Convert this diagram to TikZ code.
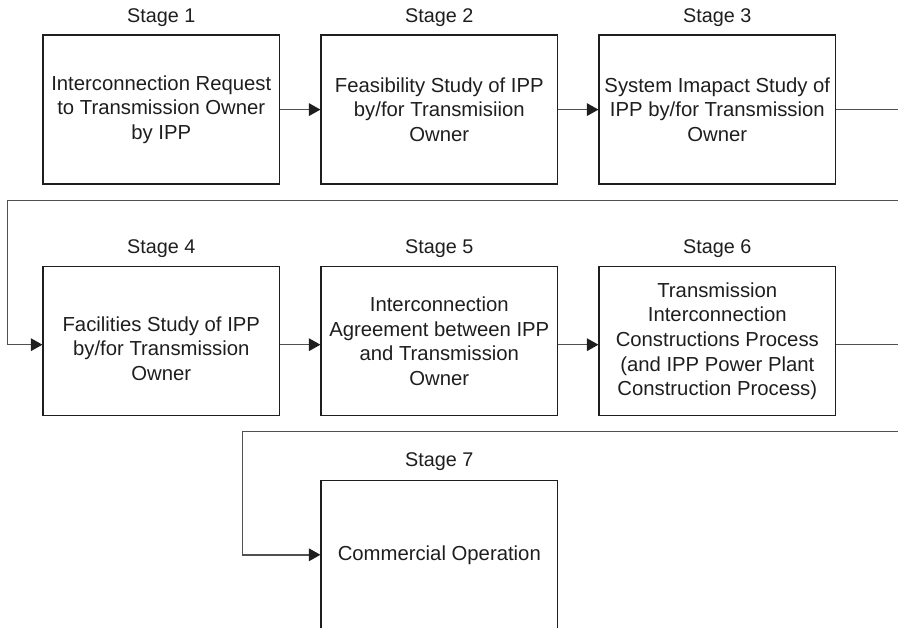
\documentclass[tikz,border=0pt]{standalone}
\usepackage{fontspec}
\setmainfont{Liberation Sans}
\usetikzlibrary{arrows.meta}
\definecolor{ink}{HTML}{1E1E1E}
\definecolor{wire}{HTML}{505050}
\begin{document}
\begin{tikzpicture}[x=1pt,y=-1pt,
  stagetext/.style={text=ink, align=center, inner sep=0pt,
    font=\fontsize{20.3}{24.7}\selectfont},
  stagebox/.style={stagetext, draw=ink, line width=1.2pt,
    minimum width=236.5pt, minimum height=149pt},
  stagelabel/.style={text=ink, inner sep=0pt, font=\fontsize{19.8}{24}\selectfont},
  flow/.style={draw=wire, line width=1.5pt,
    -{Triangle[length=11.5pt,width=12.5pt,color=ink]}}]
\clip (0,0) rectangle (898,628);

% row levels of the connectors and the return rails
\coordinate (r2) at (0,344.7);
\coordinate (edgeR) at (920,0);
\coordinate (rail1) at (7.3,200.7);
\coordinate (rail2) at (242.7,431.7);

% first row
\node[stagebox] (s1) at (161.3,109.6) {Interconnection Request\\to Transmission Owner\\by IPP};
\node[stagebox] (s2) at (439.3,109.6) {Feasibility Study of IPP\\by/for Transmisiion\\Owner};
\node[stagebox] (s3) at (717.3,109.6) {System Imapact Study of\\IPP by/for Transmission\\Owner};
\node[stagelabel] (l1) at (161.3,17.3) {Stage 1};
\node[stagelabel] (l2) at (439.3,17.3) {Stage 2};
\node[stagelabel] (l3) at (717.3,17.3) {Stage 3};

% second row
\node[stagebox] (s4) at (161.3,341.2) {};
\node[stagetext] (t4) at (161.3,348.5) {Facilities Study of IPP\\by/for Transmission\\Owner};
\node[stagebox] (s5) at (439.3,341.2) {Interconnection\\Agreement between IPP\\and Transmission\\Owner};
\node[stagebox] (s6) at (717.3,341.2) {Transmission\\Interconnection\\Constructions Process\\(and IPP Power Plant\\Construction Process)};
\node[stagelabel] (l4) at (161.3,249) {Stage 4};
\node[stagelabel] (l5) at (439.3,249) {Stage 5};
\node[stagelabel] (l6) at (717.3,249) {Stage 6};

% third row
\node[stagebox] (s7) at (439.3,554.8) {Commercial Operation};
\node[stagelabel] (l7) at (439.3,461.7) {Stage 7};

% connectors
\draw[flow] (s1.east) -- (s2.west);
\draw[flow] (s2.east) -- (s3.west);
\draw[flow] (s3.east) -| (edgeR |- rail1) -- (rail1) |- (s4.west |- r2);
\draw[flow] (s4.east |- r2) -- (s5.west |- r2);
\draw[flow] (s5.east |- r2) -- (s6.west |- r2);
\draw[flow] (s6.east |- r2) -| (edgeR |- rail2) -- (rail2) |- (s7.west);
\end{tikzpicture}
\end{document}
